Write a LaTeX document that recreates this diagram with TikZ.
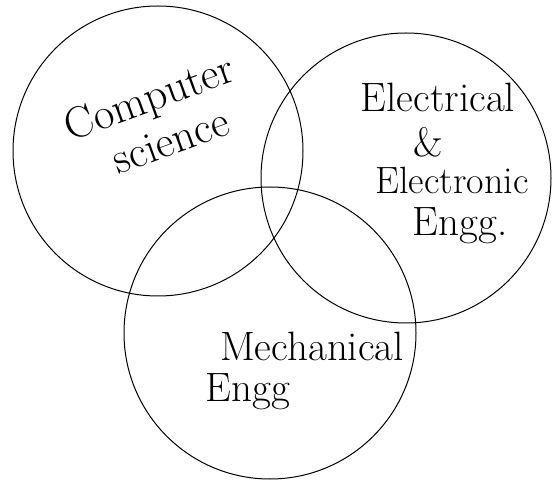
\documentclass[tikz,border=0pt]{standalone}
\begin{document}
\begin{tikzpicture}[x=1pt,y=-1pt,
		kreis/.style={line width=1pt},
		schrift/.style={font=\fontsize{41}{43}\selectfont, inner sep=0pt}]
	\useasboundingbox (0,0) rectangle (552,486);
	
	% Kreise
	\draw[kreis] (158,151) circle (145);
	\draw[kreis] (406,178) circle (145);
	\draw[kreis] (270,333) circle (146);
	
	% Informatik
	\node[schrift, font=\fontsize{44}{46}\selectfont, align=center, rotate=20] (cs) at (157,119) {Computer\\[2pt]\hspace*{10pt}science};
	
	% Elektrotechnik
	\node[schrift] (ee1) at (438,97) {Electrical};
	\node[schrift] (ee2) at (428,142) {\&};
	\node[schrift, font=\fontsize{38}{40}\selectfont] (ee3) at (452,180) {Electronic};
	\node[schrift] (ee4) at (460,226) {Engg.};
	
	% Maschinenbau
	\node[schrift] (me1) at (312,346) {Mechanical};
	\node[schrift] (me2) at (248,392) {Engg};
	
\end{tikzpicture}
\end{document}
